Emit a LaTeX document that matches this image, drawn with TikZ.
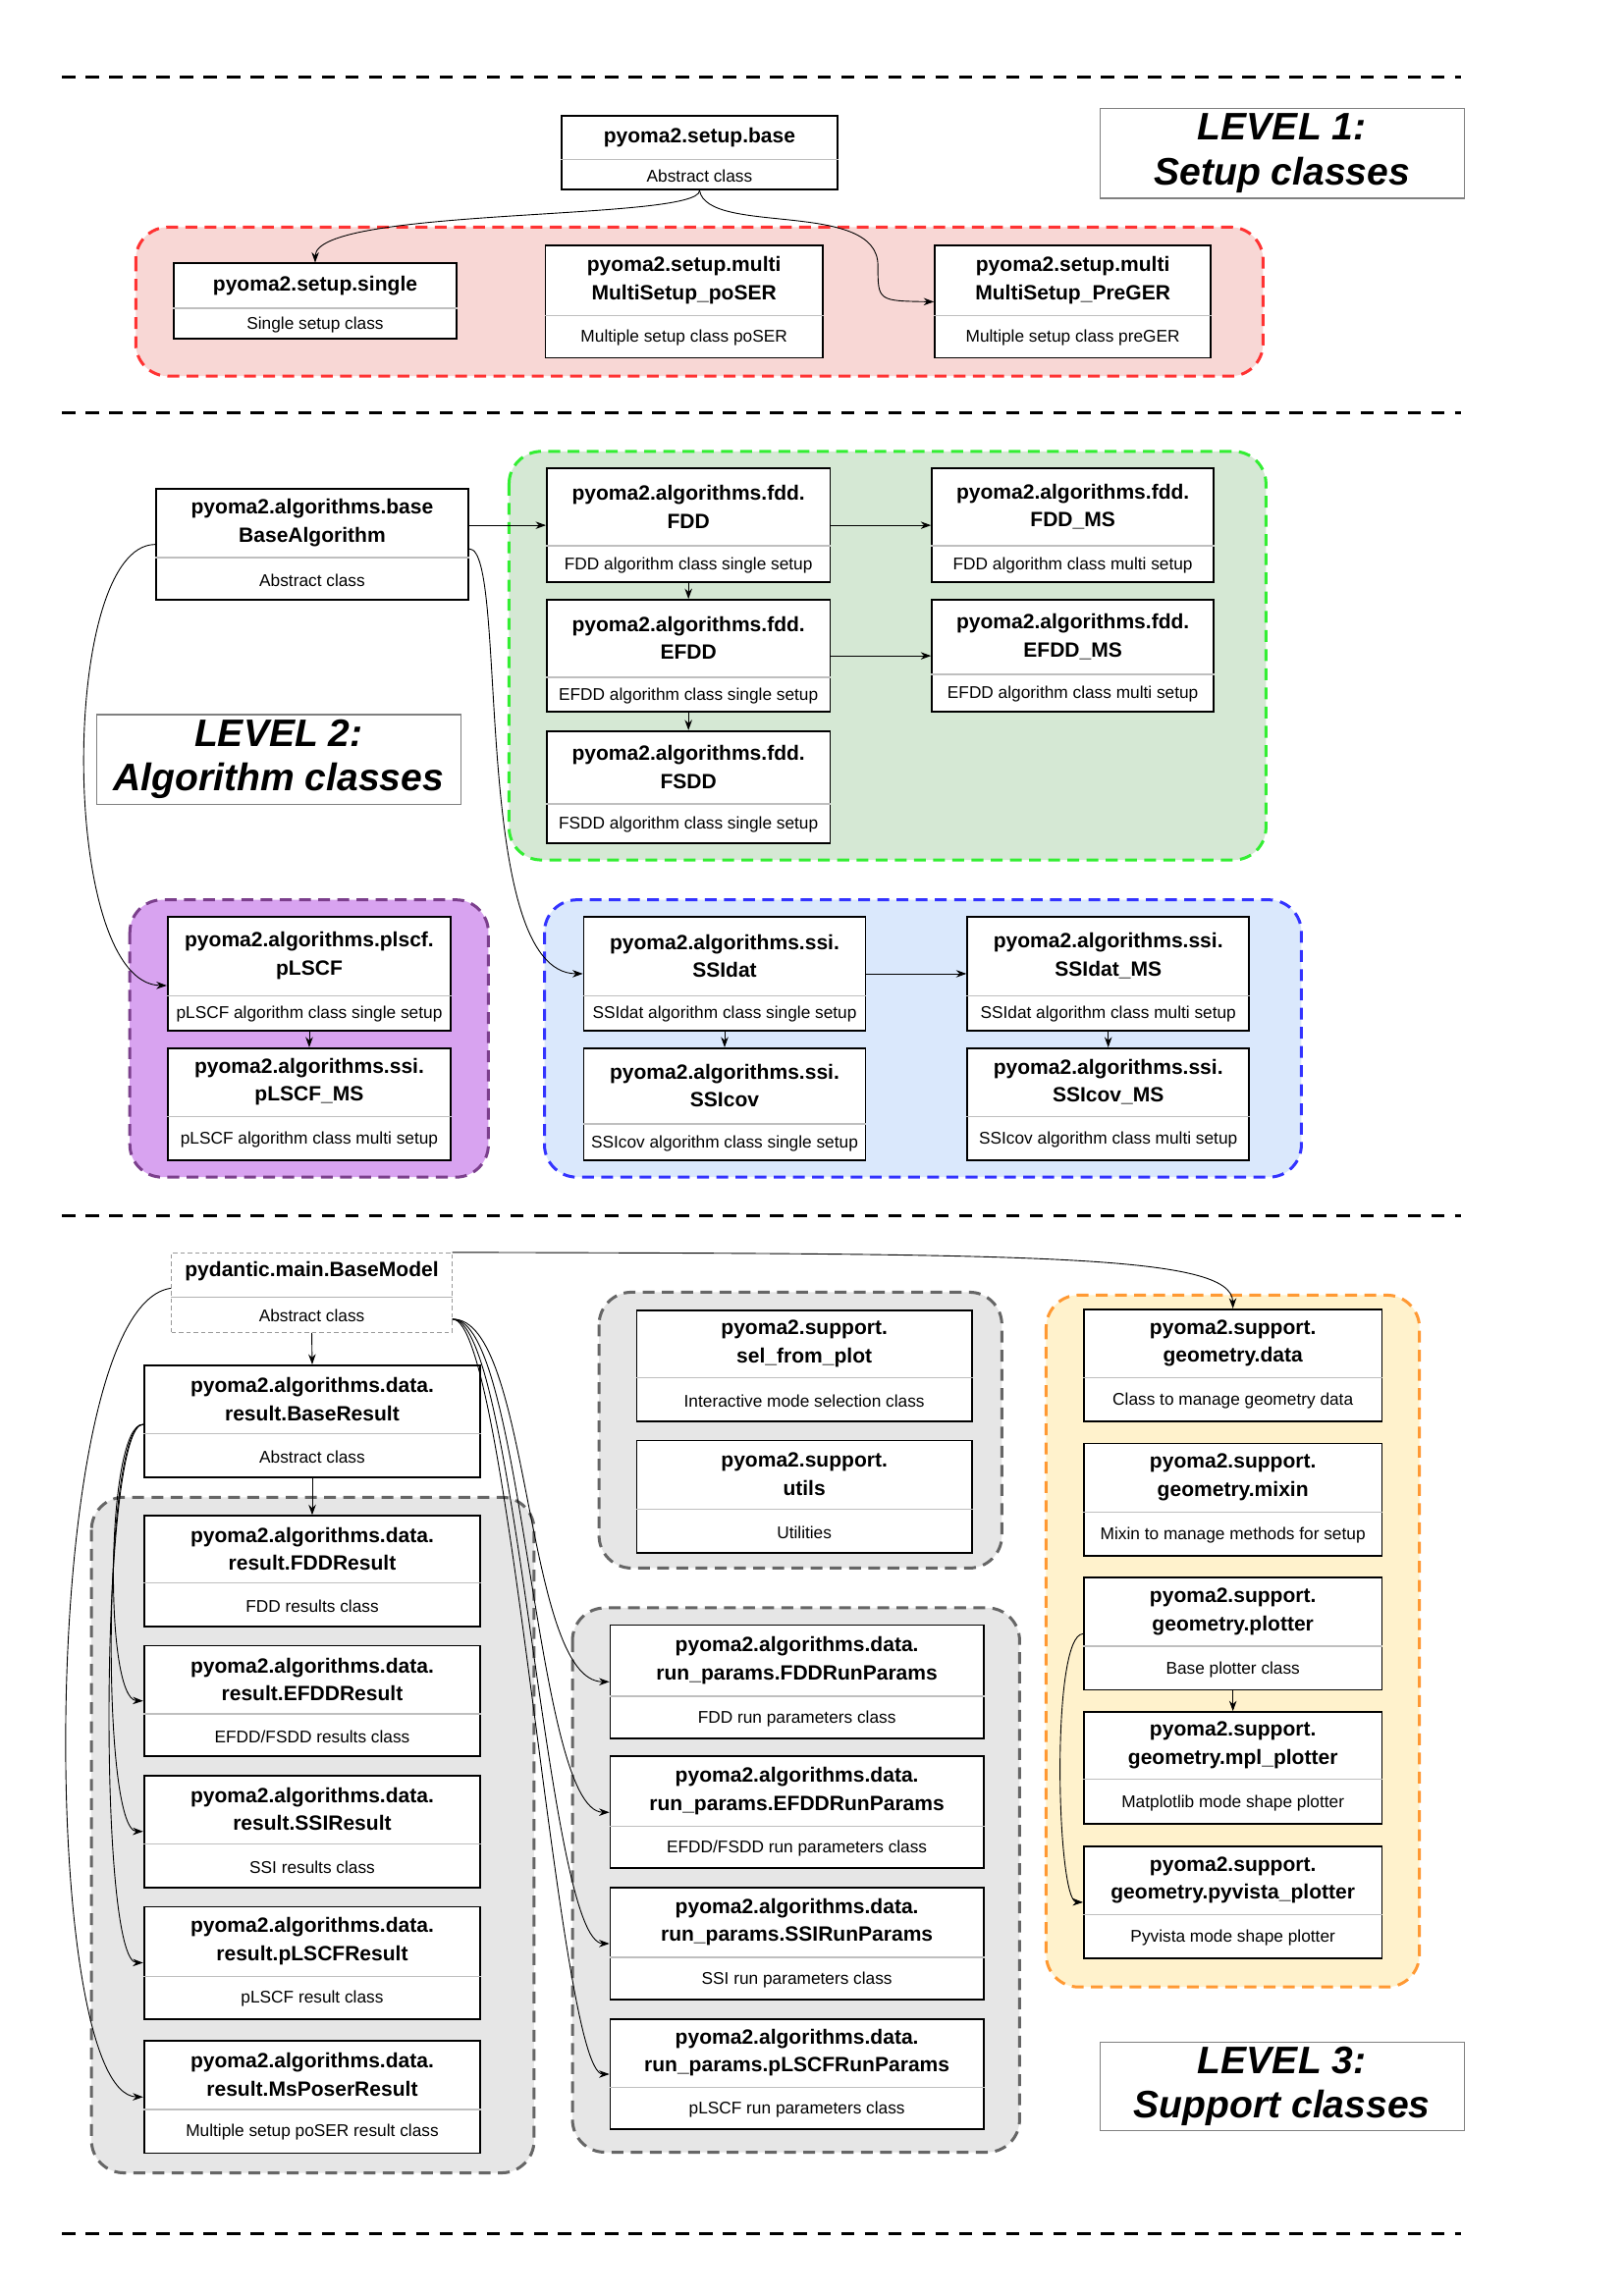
\documentclass[tikz,border=0pt]{standalone}
\usepackage{fontspec}
\setmainfont{Liberation Sans}
\usetikzlibrary{arrows.meta,calc}
\definecolor{redF}{HTML}{F8D7D5}\definecolor{redD}{HTML}{FF3333}
\definecolor{grnF}{HTML}{D5E8D4}\definecolor{grnD}{HTML}{33EE33}
\definecolor{purF}{HTML}{D8A3F0}\definecolor{purD}{HTML}{7B3F8C}
\definecolor{bluF}{HTML}{DAE8FC}\definecolor{bluD}{HTML}{3333FF}
\definecolor{gryF}{HTML}{E6E6E6}\definecolor{gryD}{HTML}{666666}
\definecolor{orgF}{HTML}{FFF2CC}\definecolor{orgD}{HTML}{FF9933}
\tikzset{
 box/.style={draw=black,fill=white,line width=1.2pt,inner sep=0pt},
 ttl/.style={font=\fontsize{14}{19}\selectfont\bfseries,align=center,inner sep=0pt},
 sub/.style={font=\fontsize{11.5}{13}\selectfont,inner sep=0pt},
 grp/.style={rounded corners=22pt,line width=2pt,dash pattern=on 8pt off 5pt},
 sep/.style={line width=2pt,dash pattern=on 9pt off 7pt},
 lvl/.style={draw=gray,line width=0.8pt,fill=white,font=\fontsize{26}{30}\selectfont\bfseries\itshape,align=center,inner sep=0pt},
 con/.style={line width=0.6pt,-{Stealth[length=7pt,width=5pt]}},
}
\newcommand\cbox[8]{%
 \node[box,minimum width=#4pt,minimum height=#5pt,anchor=north west] (#1) at (#2,#3) {};
 \draw[gray!50,line width=1pt] ([yshift={-(#6)*1pt}]#1.north west) -- ([yshift={-(#6)*1pt}]#1.north east);
 \node[ttl] at ([yshift={-(#6)*0.5pt}]#1.north) {#7};
 \node[sub] at ([yshift={((#5)-(#6))*0.5pt}]#1.south) {#8};
}
\begin{document}
\begin{tikzpicture}[x=1pt,y=-1pt]
\useasboundingbox[fill=white] (0,0) rectangle (1100,1556.5);
% separators
\foreach \y in {52,280,824,1514} \draw[sep] (42,\y) -- (990,\y);
% groups
\draw[grp,draw=redD,fill=redF] (92,154) rectangle (856,255);
\draw[grp,draw=grnD,fill=grnF] (345,306) rectangle (858,583);
\draw[grp,draw=purD,fill=purF] (88,610) rectangle (331,798);
\draw[grp,draw=bluD,fill=bluF] (369,610) rectangle (882,798);
\draw[grp,draw=gryD,fill=gryF] (62,1015) rectangle (362,1473);
\draw[grp,draw=gryD,fill=gryF] (406,876) rectangle (679,1063);
\draw[grp,draw=gryD,fill=gryF] (388,1090) rectangle (691,1459);
\draw[grp,draw=orgD,fill=orgF] (709,878) rectangle (962,1347);
% level labels
\node[lvl,minimum width=247pt,minimum height=61pt,anchor=north west] (L1) at (745,73) {LEVEL 1:\\Setup classes};
\node[lvl,minimum width=247pt,minimum height=61pt,anchor=north west] (L2) at (65,484) {LEVEL 2:\\Algorithm classes};
\node[lvl,minimum width=247pt,minimum height=60pt,anchor=north west] (L3) at (745,1384) {LEVEL 3:\\Support classes};
% level 1
\cbox{sbase}{380}{78}{187}{50}{30}{pyoma2.setup.base}{Abstract class}
\cbox{single}{117}{178}{192}{51}{31}{pyoma2.setup.single}{Single setup class}
\cbox{poser}{369}{166}{188}{76}{48}{pyoma2.setup.multi\\MultiSetup\_poSER}{Multiple setup class poSER}
\cbox{preger}{633}{166}{187}{76}{48}{pyoma2.setup.multi\\MultiSetup\_PreGER}{Multiple setup class preGER}
% level 2
\cbox{balg}{105}{331}{212}{75}{47}{pyoma2.algorithms.base\\BaseAlgorithm}{Abstract class}
\cbox{fdd}{370}{317}{192}{77}{53}{pyoma2.algorithms.fdd.\\FDD}{FDD algorithm class single setup}
\cbox{fddms}{631}{317}{191}{77}{53}{pyoma2.algorithms.fdd.\\FDD\_MS}{FDD algorithm class multi setup}
\cbox{efdd}{370}{406}{192}{76}{53}{pyoma2.algorithms.fdd.\\EFDD}{EFDD algorithm class single setup}
\cbox{efddms}{631}{406}{191}{76}{51}{pyoma2.algorithms.fdd.\\EFDD\_MS}{EFDD algorithm class multi setup}
\cbox{fsdd}{370}{495}{192}{76}{50}{pyoma2.algorithms.fdd.\\FSDD}{FSDD algorithm class single setup}
\cbox{plscf}{113}{621}{192}{77}{54}{pyoma2.algorithms.plscf.\\pLSCF}{pLSCF algorithm class single setup}
\cbox{plscfms}{113}{710}{192}{76}{47}{pyoma2.algorithms.ssi.\\pLSCF\_MS}{pLSCF algorithm class multi setup}
\cbox{ssidat}{395}{621}{191}{77}{54}{pyoma2.algorithms.ssi.\\SSIdat}{SSIdat algorithm class single setup}
\cbox{ssidatms}{655}{621}{191}{77}{54}{pyoma2.algorithms.ssi.\\SSIdat\_MS}{SSIdat algorithm class multi setup}
\cbox{ssicov}{395}{710}{191}{76}{52}{pyoma2.algorithms.ssi.\\SSIcov}{SSIcov algorithm class single setup}
\cbox{ssicovms}{655}{710}{191}{76}{47}{pyoma2.algorithms.ssi.\\SSIcov\_MS}{SSIcov algorithm class multi setup}
% level 3
\node[draw=gray!80,dash pattern=on 3pt off 2pt,fill=white,line width=0.6pt,minimum width=190pt,minimum height=54pt,anchor=north west,inner sep=0pt] (bmodel) at (116,849) {};
\draw[gray!60] ([yshift=-30pt]bmodel.north west) -- ([yshift=-30pt]bmodel.north east);
\node[ttl] at ([yshift=-13pt]bmodel.north) {pydantic.main.BaseModel};
\node[sub] at ([yshift=12pt]bmodel.south) {Abstract class};
\cbox{bres}{97}{925}{228}{76}{47}{pyoma2.algorithms.data.\\result.BaseResult}{Abstract class}
\cbox{fddres}{97}{1027}{228}{75}{46}{pyoma2.algorithms.data.\\result.FDDResult}{FDD results class}
\cbox{efddres}{97}{1115}{228}{75}{47}{pyoma2.algorithms.data.\\result.EFDDResult}{EFDD/FSDD results class}
\cbox{ssires}{97}{1203}{228}{76}{47}{pyoma2.algorithms.data.\\result.SSIResult}{SSI results class}
\cbox{plscfres}{97}{1292}{228}{76}{48}{pyoma2.algorithms.data.\\result.pLSCFResult}{pLSCF result class}
\cbox{msres}{97}{1383}{228}{76}{47}{pyoma2.algorithms.data.\\result.MsPoserResult}{Multiple setup poSER result class}
\cbox{sel}{431}{888}{227}{75}{46}{pyoma2.support.\\sel\_from\_plot}{Interactive mode selection class}
\cbox{utils}{431}{976}{227}{76}{47}{pyoma2.support.\\utils}{Utilities}
\cbox{fddrp}{413}{1101}{253}{77}{49}{pyoma2.algorithms.data.\\run\_params.FDDRunParams}{FDD run parameters class}
\cbox{efddrp}{413}{1190}{253}{76}{48}{pyoma2.algorithms.data.\\run\_params.EFDDRunParams}{EFDD/FSDD run parameters class}
\cbox{ssirp}{413}{1279}{253}{76}{48}{pyoma2.algorithms.data.\\run\_params.SSIRunParams}{SSI run parameters class}
\cbox{plscfrp}{413}{1368}{253}{75}{47}{pyoma2.algorithms.data.\\run\_params.pLSCFRunParams}{pLSCF run parameters class}
\cbox{gdata}{734}{887}{202}{76}{47}{pyoma2.support.\\geometry.data}{Class to manage geometry data}
\cbox{mixin}{734}{978}{202}{76}{47}{pyoma2.support.\\geometry.mixin}{Mixin to manage methods for setup}
\cbox{plotter}{734}{1069}{202}{76}{47}{pyoma2.support.\\geometry.plotter}{Base plotter class}
\cbox{mpl}{734}{1160}{202}{76}{46}{pyoma2.support.\\geometry.mpl\_plotter}{Matplotlib mode shape plotter}
\cbox{pyv}{734}{1251}{202}{76}{47}{pyoma2.support.\\geometry.pyvista\_plotter}{Pyvista mode shape plotter}
% connectors level 1
\draw[con] (sbase.south) .. controls (474,150) and (214,140) .. (single.north);
\draw[con] (sbase.south) .. controls (480,160) and (595,135) .. (595,180) .. controls (595,204) .. (preger.west);
% level 2
\draw[con] (balg.east |- fdd.west) -- (fdd.west);
\draw[con] (fdd.east) -- (fddms.west);
\draw[con] (efdd.east) -- (efddms.west);
\draw[con] (fdd.south) -- (efdd.north);
\draw[con] (efdd.south) -- (fsdd.north);
\draw[con] (balg.west) .. controls (40,370) and (40,667) .. ([yshift=-8pt]plscf.west);
\draw[con] ([yshift=-3pt]balg.east) .. controls (345,372) and (318,660) .. (ssidat.west);
\draw[con] (ssidat.east) -- (ssidatms.west);
\draw[con] (ssidat.south) -- (ssicov.north);
\draw[con] (ssidatms.south) -- (ssicovms.north);
\draw[con] (plscf.south) -- (plscfms.north);
% level 3
\draw[con] (bmodel.south) -- (bres.north);
\draw[con] (bres.south) -- (fddres.north);
\draw[con] (bmodel.north east) .. controls (700,850) and (835,850) .. (gdata.north);
\draw[con] ([yshift=3pt]bmodel.west) .. controls (25,885) and (25,1420) .. (msres.west);
\draw[con] ([yshift=-18pt]bmodel.east) .. controls (360,893) and (355,1140) .. (fddrp.west);
\draw[con] ([yshift=-18pt]bmodel.east) .. controls (355,893) and (362,1228) .. (efddrp.west);
\draw[con] ([yshift=-18pt]bmodel.east) .. controls (350,893) and (370,1317) .. (ssirp.west);
\draw[con] ([yshift=-18pt]bmodel.east) .. controls (345,893) and (378,1406) .. (plscfrp.west);
\draw[con] ([yshift=-2pt]bres.west) .. controls (72,965) and (70,1152) .. (efddres.west);
\draw[con] ([yshift=-2pt]bres.west) .. controls (70,965) and (68,1241) .. (ssires.west);
\draw[con] ([yshift=-2pt]bres.west) .. controls (68,965) and (66,1330) .. (plscfres.west);
\draw[con] (plotter.south) -- (mpl.north);
\draw[con] (plotter.west) .. controls (712,1108) and (716,1289) .. (pyv.west);
\end{tikzpicture}
\end{document}
